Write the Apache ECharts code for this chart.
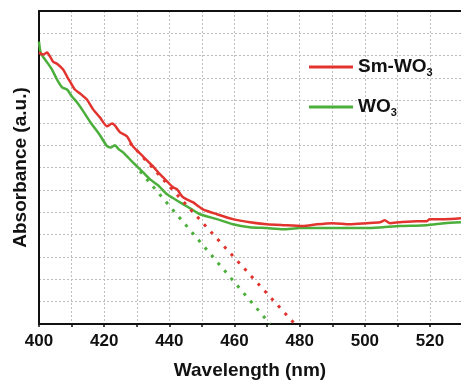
<!DOCTYPE html>
<html><head><meta charset="utf-8">
<script src="https://cdn.jsdelivr.net/npm/echarts@6/dist/echarts.min.js"></script>
<style>html,body{margin:0;padding:0;background:#fff}#c{width:461px;height:385px}</style>
</head><body><div id="c"></div>
<script>
const smX = [400.0,401.2,402.5,403.4,404.3,405.8,407.4,408.6,409.5,411.0,412.6,414.7,416.6,418.7,420.9,422.4,423.3,424.9,427.0,428.8,431.9,435.0,437.1,439.3,441.1,442.3,444.2,447.2,450.3,454.6,459.5,464.7,469.9,474.9,481.0,485.3,490.2,495.4,500.6,504.6,506.1,507.7,510.7,516.0,519.0,519.9,524.5,529.5];
const smY = [12.14,12.05,12.14,11.96,11.74,11.61,11.38,11.07,10.85,10.49,10.31,10.04,9.60,9.24,8.84,8.97,8.88,8.57,8.39,7.95,7.50,7.05,6.70,6.38,6.12,6.03,5.67,5.45,5.13,4.91,4.69,4.55,4.46,4.42,4.38,4.46,4.51,4.46,4.51,4.55,4.64,4.51,4.55,4.60,4.60,4.69,4.69,4.73];
const wX = [400.0,400.3,400.6,401.2,402.5,404.0,405.5,407.1,408.6,410.1,411.7,413.2,415.6,418.7,420.9,422.1,423.3,424.5,425.8,428.8,431.9,434.1,436.5,439.3,441.7,444.2,446.9,449.4,454.6,459.5,464.7,469.9,474.9,480.1,485.3,490.2,495.4,500.6,505.5,510.7,519.0,524.5,529.5];
const wY = [12.63,12.28,12.10,11.96,11.70,11.38,10.94,10.58,10.49,10.18,9.91,9.60,9.06,8.44,7.95,7.90,7.99,7.81,7.68,7.23,6.79,6.47,6.21,5.80,5.58,5.36,5.13,4.91,4.69,4.46,4.33,4.29,4.24,4.29,4.29,4.29,4.29,4.29,4.33,4.38,4.42,4.51,4.55];
const smTanX = [427.9, 478.5];
const smTanY = [8.10, 0];
const wTanX = [431.0, 470.9];
const wTanY = [6.83, 0];
const names = ['Sm-WO3', 'WO3'];
const xTicks = [400, 420, 440, 460, 480, 500, 520];

const RED = '#e2342f', GREEN = '#4caf3c';
const zip = (a, b) => a.map((v, i) => [v, b[i]]);
const font = 'Liberation Sans, Arial, sans-serif';
const chart = echarts.init(document.getElementById('c'));
chart.setOption({
  animation: false,
  grid: {left: 39, right: 0, top: 11, bottom: 60},
  legend: {
    orient: 'vertical', left: 309, top: 56, padding: 0, itemWidth: 44, itemHeight: 3, itemGap: 18,
    icon: 'rect', data: names,
    formatter: n => n.replace('3', '{sub|3}'),
    textStyle: {fontFamily: font, fontWeight: 'bold', fontSize: 19, color: '#111', lineHeight: 22,
      rich: {sub: {fontFamily: font, fontWeight: 'bold', fontSize: 11, color: '#111', verticalAlign: 'bottom', lineHeight: 22, padding: [8, 0, 0, 0]}}}
  },
  xAxis: [{
    type: 'value', min: 400, max: 529.5, interval: 10,
    name: 'Wavelength (nm)', nameLocation: 'middle', nameGap: 37,
    nameTextStyle: {fontFamily: font, fontWeight: 'bold', fontSize: 19, color: '#111'},
    axisLine: {lineStyle: {color: '#111', width: 2}},
    axisTick: {show: true, length: 3, lineStyle: {color: '#111', width: 1.5}},
    axisLabel: {fontFamily: font, fontWeight: 'bold', fontSize: 17, color: '#111', margin: 9, showMaxLabel: false,
      formatter: v => xTicks.includes(v) ? String(v) : ''},
    splitLine: {show: true, lineStyle: {color: '#bdbdbd', type: [2, 2], width: 1}}
  }, {
    type: 'value', position: 'top', min: 400, max: 529.5,
    axisLine: {show: true, onZero: false, lineStyle: {color: '#111', width: 2}},
    axisTick: {show: false}, axisLabel: {show: false}, splitLine: {show: false}
  }],
  yAxis: {
    type: 'value', min: 0, max: 14, interval: 1,
    name: 'Absorbance (a.u.)', nameLocation: 'middle', nameGap: 9,
    nameTextStyle: {fontFamily: font, fontWeight: 'bold', fontSize: 19, color: '#111'},
    axisLine: {show: true, lineStyle: {color: '#111', width: 2}},
    axisTick: {show: false}, axisLabel: {show: false},
    splitLine: {show: true, lineStyle: {color: '#bdbdbd', type: [2, 2], width: 1}}
  },
  series: [
    {name: names[0], type: 'line', data: zip(smX, smY), showSymbol: false, smooth: 0.2, lineStyle: {color: RED, width: 2.5}, itemStyle: {color: RED}, z: 3},
    {name: names[1], type: 'line', data: zip(wX, wY), showSymbol: false, smooth: 0.2, lineStyle: {color: GREEN, width: 2.5}, itemStyle: {color: GREEN}, z: 2},
    {name: 'tanSm', type: 'line', data: zip(smTanX, smTanY), showSymbol: false, lineStyle: {color: RED, width: 3, type: [3, 7]}, z: 4},
    {name: 'tanW', type: 'line', data: zip(wTanX, wTanY), showSymbol: false, lineStyle: {color: GREEN, width: 3, type: [3, 7]}, z: 4}
  ]
});
</script></body></html>
